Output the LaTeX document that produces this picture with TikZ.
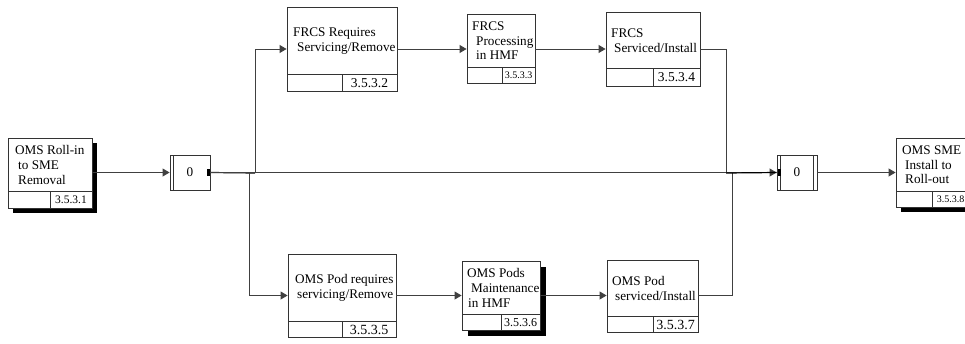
\documentclass[tikz,border=0pt]{standalone}
\usepackage{fontspec}
\setmainfont{Liberation Serif}
\usetikzlibrary{arrows.meta,fit}
\tikzset{
  boxline/.style={draw=black!80, line width=0.9pt},
  conn/.style={draw=black!75, line width=0.9pt},
  arr/.style={conn, -{Triangle[length=7pt,width=8pt]}},
  txt/.style={anchor=west, align=left, inner sep=0pt, font=\fontsize{13.2}{14.6}\selectfont},
  numtxt/.style={anchor=center, inner sep=0pt},
}
% #1 name #2 left #3 top #4 right #5 bottom #6 divider y #7 divider x #8 text #9 number
\newcommand\pbox[9]{%
  \node[boxline, fill=white, fit={(#2,#3) (#4,#5)}, inner sep=0pt] (#1) {};
  \draw[boxline] (#2,#6) -- (#4,#6);
  \draw[boxline] (#7,#6) -- (#7,#5);
  \node[txt] (#1-t) at ({#2+5},{(#3+#6)/2+0.5}) {#8};
  \node[numtxt] (#1-n) at ({(#7+#4)/2},{(#6+#5)/2+0.5}) {#9};
}
\newcommand\shadowbox[5]{%
  \fill[black] ({#1+#5},{#2+#5}) rectangle ({#3+#5},{#4+#5});
}
\begin{document}
\begin{tikzpicture}[x=1pt,y=-1pt]
\clip (0,0) rectangle (965,343);
\useasboundingbox (0,0) rectangle (965,343);
\fill[white] (0,0) rectangle (965,343);

% shadows
\shadowbox{8}{138}{92}{208}{5}
\shadowbox{462}{261}{540}{330}{6}
\shadowbox{896}{138}{970}{207}{5}

\pbox{b1}{8}{138}{92}{208}{191}{50}{\hspace*{2pt}OMS Roll-in\\\hspace*{5pt}to SME\\\hspace*{5pt}Removal}{\fontsize{11.5}{12}\selectfont 3.5.3.1}
\pbox{b2}{287}{7}{397}{91}{74}{342}{\hspace*{1pt}FRCS Requires\\\hspace*{5pt}Servicing/Remove}{\fontsize{13.5}{14}\selectfont 3.5.3.2}
\pbox{b3}{467}{14}{535}{83}{67}{502}{FRCS\\\hspace*{4pt}Processing\\\hspace*{4pt}in HMF}{\fontsize{10}{11}\selectfont 3.5.3.3}
\pbox{b4}{606}{12}{700}{86}{68}{653}{FRCS\\\hspace*{3pt}Serviced/Install}{\fontsize{13.5}{14}\selectfont 3.5.3.4}
\pbox{b5}{288}{254}{396}{337}{321}{342}{\hspace*{2pt}OMS Pod requires\\\hspace*{4pt}servicing/Remove}{\fontsize{14}{14}\selectfont 3.5.3.5}
\pbox{b6}{462}{261}{540}{330}{314}{501}{OMS Pods\\\hspace*{4pt}Maintenance\\\hspace*{1pt}in HMF}{\fontsize{12}{13}\selectfont 3.5.3.6}
\pbox{b7}{607}{260}{698}{332}{316}{653}{OMS Pod\\\hspace*{3pt}serviced/Install}{\fontsize{14}{14}\selectfont 3.5.3.7}
\pbox{b8}{896}{138}{969}{207}{191}{932}{\hspace*{1pt}OMS SME\\\hspace*{4pt}Install to\\\hspace*{4pt}Roll-out}{\fontsize{10}{11}\selectfont 3.5.3.8}

% junctions
\node[boxline, fill=white, fit={(170,155) (210,190)}, inner sep=0pt] (j1) {};
\node[font=\fontsize{13.2}{14}\selectfont] (j1-t) at (j1.center) {0};
\draw[boxline] (173.5,155) -- (173.5,190);
\fill[black] (207,169) rectangle (210,176);

\node[boxline, fill=white, fit={(777,155) (817,190)}, inner sep=0pt] (j2) {};
\node[font=\fontsize{13.2}{14}\selectfont] (j2-t) at (j2.center) {0};
\draw[boxline] (780.5,155) -- (780.5,190);
\draw[boxline] (813.5,155) -- (813.5,190);
\fill[black] (778,169) rectangle (781,176);

% connector waypoints
\coordinate (sd) at (249,173);
\coordinate (su) at (255,173);
\coordinate (mu) at (726,173);
\coordinate (md) at (732,173);

\draw[arr] (b1.east|-j1.west) -- (j1.west);
\draw[conn, draw=black, line width=1.2pt] (j1.east) -- (su);
\draw[arr] (j1.east) -- (j2.west);
\draw[arr] (su) |- (b2.west);
\draw[arr] (sd) |- (b5.west);
\draw[arr] (b2.east) -- (b3.west|-b2.east);
\draw[arr] (b3.east|-b2.east) -- (b4.west|-b2.east);
\draw[conn] (b4.east|-b2.east) -| (mu);
\draw[arr] (b5.east) -- (b6.west|-b5.east);
\draw[arr] (b6.east|-b5.east) -- (b7.west|-b5.east);
\draw[conn] (b7.east|-b5.east) -| (md);
\draw[conn, draw=black, line width=1.2pt] (mu) -- (j2.west);
\draw[arr] (j2.east) -- (b8.west|-j2.east);
\end{tikzpicture}
\end{document}
